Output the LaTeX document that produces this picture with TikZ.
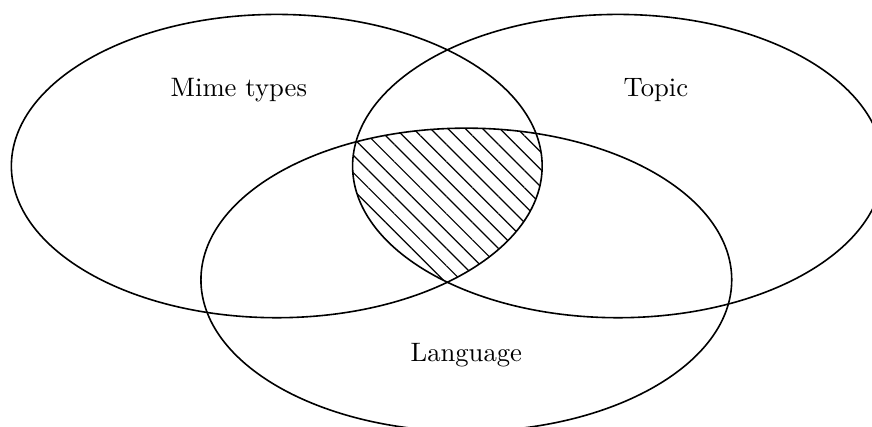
\documentclass[tikz,border=0pt]{standalone}
\usepackage{tikz}
\usetikzlibrary{patterns.meta}

\begin{document}
\begin{tikzpicture}[
    set/.style={draw,line width=0.6pt},
    hatch/.style={pattern={Lines[angle=-45,distance=4.6pt,line width=0.45pt]}},
    lbl/.style={font=\normalsize}]
  \useasboundingbox (-3.65,-3.43) rectangle (7.85,2.19);
  \coordinate (M) at (0,0);
  \coordinate (T) at (4.5,0);
  \coordinate (L) at (2.5,-1.5);
  % common part of all three sets
  \begin{scope}
    \clip (M) ellipse (3.5cm and 2cm);
    \clip (T) ellipse (3.5cm and 2cm);
    \fill[hatch] (L) ellipse (3.5cm and 2cm);
  \end{scope}
  \draw[set] (M) ellipse (3.5cm and 2cm);
  \draw[set] (T) ellipse (3.5cm and 2cm);
  \draw[set] (L) ellipse (3.5cm and 2cm);
  \node[lbl] (mime) at (-0.5,1) {Mime types};
  \node[lbl] (topic) at (5,1) {Topic};
  \node[lbl] (lang) at (2.5,-2.5) {Language};
\end{tikzpicture}
\end{document}
